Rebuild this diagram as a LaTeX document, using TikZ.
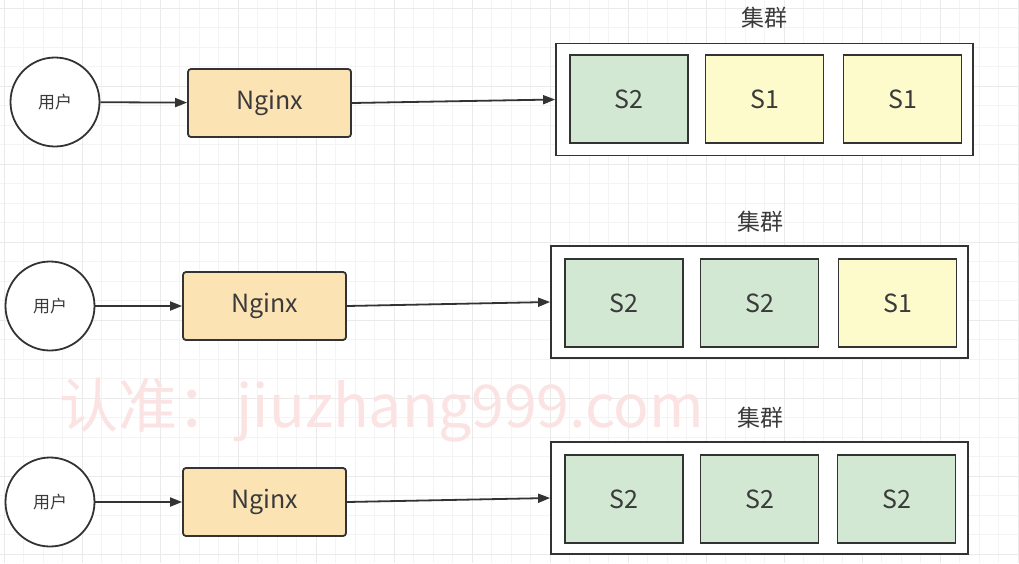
\documentclass[tikz,border=0pt]{standalone}
\usepackage{fontspec}
\newfontfamily\cjk{Noto Sans CJK SC}
\usetikzlibrary{arrows.meta}
\definecolor{nginxfill}{HTML}{FCE3B4}
\definecolor{sgreen}{HTML}{D2E8D2}
\definecolor{syellow}{HTML}{FDFACB}
\definecolor{edge}{HTML}{333333}
\definecolor{txt}{HTML}{3A3A3A}
\definecolor{gridminor}{HTML}{F4F4F4}
\definecolor{gridmajor}{HTML}{EAEAEA}
\definecolor{wm}{HTML}{FBE3E3}
\tikzset{
  user/.style={circle, draw=edge, line width=1.8pt, fill=white, minimum size=89pt, inner sep=0pt, font=\cjk\fontsize{17}{17}\selectfont, text=txt},
  nginx/.style={rectangle, rounded corners=3pt, draw=edge, line width=1.8pt, fill=nginxfill, minimum width=163pt, minimum height=68pt, inner sep=0pt, font=\cjk\fontsize{25}{25}\selectfont, text=txt},
  cluster/.style={rectangle, draw=edge, line width=1.8pt, fill=white, minimum width=417pt, minimum height=112pt, inner sep=0pt},
  sbox/.style={rectangle, draw=edge, line width=1.8pt, minimum width=118pt, minimum height=88pt, inner sep=0pt, font=\cjk\fontsize{25}{25}\selectfont, text=txt},
  sg/.style={sbox, fill=sgreen},
  sy/.style={sbox, fill=syellow},
  ctitle/.style={font=\cjk\fontsize{23}{23}\selectfont, text=txt, inner sep=0pt},
  link/.style={draw=edge, line width=1.8pt, -{Triangle[length=12pt,width=9pt]}}
}
\begin{document}
\begin{tikzpicture}[x=1pt,y=-1pt]
\useasboundingbox (0,0) rectangle (1019,563);
\fill[white] (0,0) rectangle (1019,563);
% grid
\foreach \i in {0,...,52} {
  \draw[gridminor, line width=0.8pt] (\i*19.5+4,0) -- (\i*19.5+4,563);
}
\foreach \j in {0,...,29} {
  \draw[gridminor, line width=0.8pt] (0,\j*19.5+8) -- (1019,\j*19.5+8);
}
\foreach \i in {0,...,13} {
  \draw[gridmajor, line width=0.8pt] (\i*78+4,0) -- (\i*78+4,563);
}
\foreach \j in {0,...,7} {
  \draw[gridmajor, line width=0.8pt] (0,\j*78+8) -- (1019,\j*78+8);
}
% watermark
\node[text=wm, font=\cjk\fontsize{59}{59}\selectfont, inner sep=0pt] (wmark) at (382,410) {认准：jiuzhang999.com};

% row 1
\node[user] (u1) at (55,102) {用户};
\node[nginx] (n1) at (269.5,103) {Nginx};
\node[cluster] (c1) at (764.5,99.5) {};
\node[sg] (s11) at (629,99) {S2};
\node[sy] (s12) at (764.5,99) {S1};
\node[sy] (s13) at (902.5,99) {S1};
\node[ctitle] (t1) at (764,18) {集群};
\draw[link] (u1) -- (n1);
\draw[link] (n1.east) -- (c1.west);

% row 2
\node[user] (u2) at (50,306) {用户};
\node[nginx] (n2) at (264.5,306) {Nginx};
\node[cluster] (c2) at (759.5,302) {};
\node[sg] (s21) at (624,303) {S2};
\node[sg] (s22) at (759.5,303) {S2};
\node[sy] (s23) at (897.5,303) {S1};
\node[ctitle] (t2) at (760,222) {集群};
\draw[link] (u2) -- (n2);
\draw[link] (n2.east) -- (c2.west);

% row 3
\node[user] (u3) at (50,502) {用户};
\node[nginx] (n3) at (264.5,502) {Nginx};
\node[cluster] (c3) at (759.5,498) {};
\node[sg] (s31) at (624,499) {S2};
\node[sg] (s32) at (759.5,499) {S2};
\node[sg] (s33) at (896.5,499) {S2};
\node[ctitle] (t3) at (760,418) {集群};
\draw[link] (u3) -- (n3);
\draw[link] (n3.east) -- (c3.west);
\end{tikzpicture}
\end{document}
